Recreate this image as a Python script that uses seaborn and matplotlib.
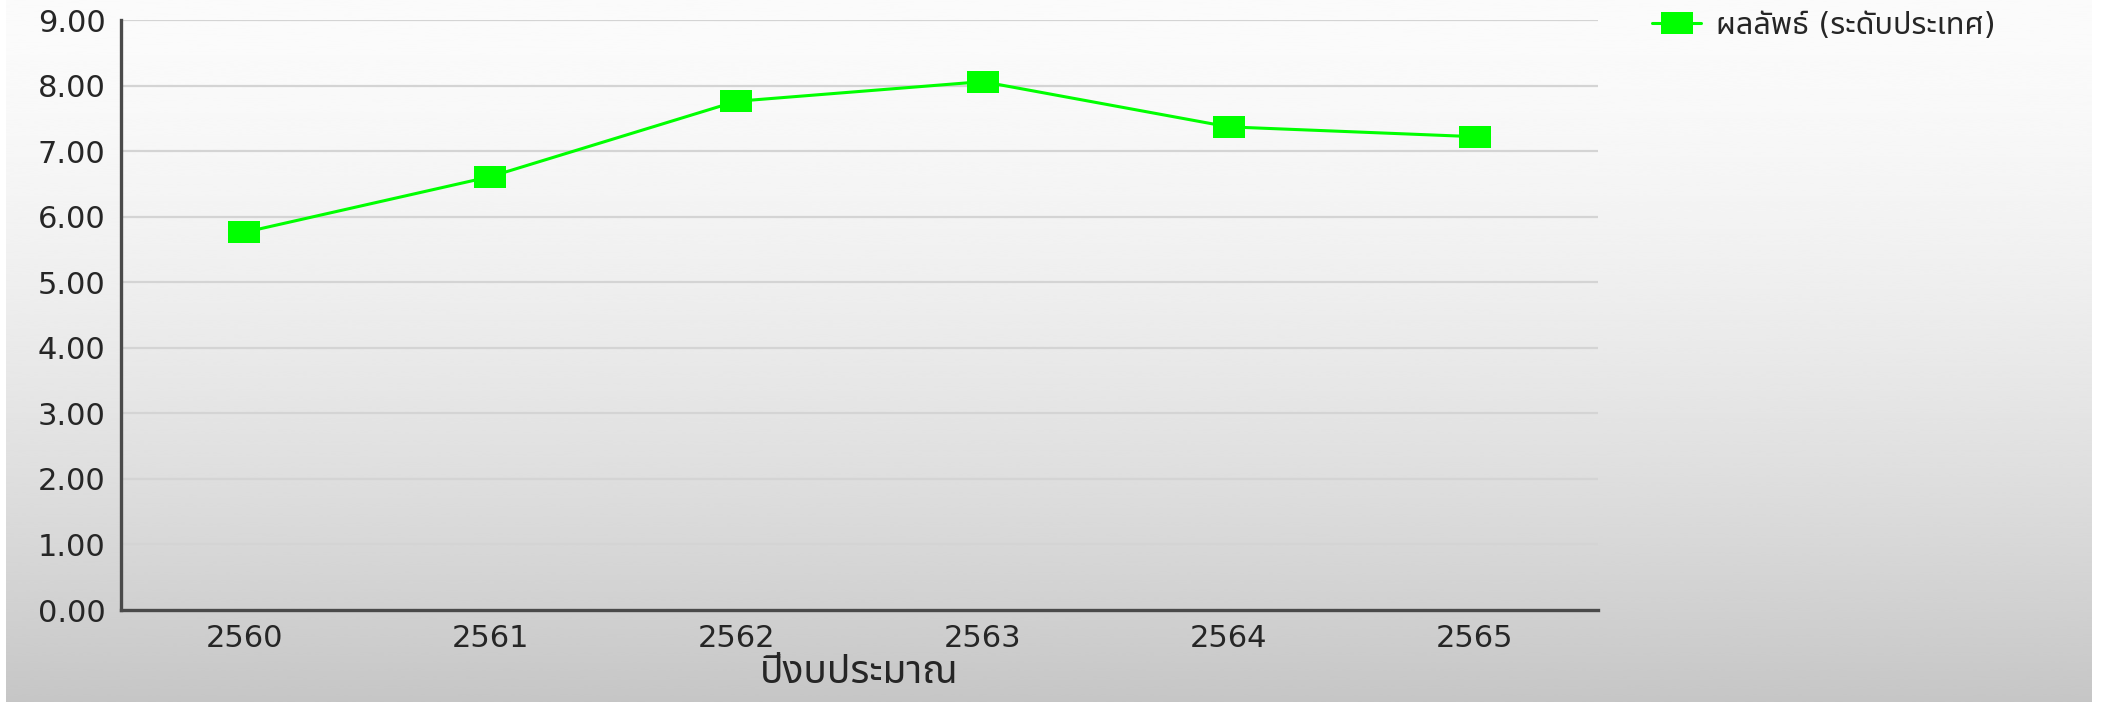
import numpy as np
import pandas as pd
import matplotlib
matplotlib.use("Agg")
import matplotlib.pyplot as plt
import matplotlib.font_manager as fm
from matplotlib.ft2font import FT2Font
from matplotlib.path import Path
import seaborn as sns

# --- data -------------------------------------------------------------
years = ["2560", "2561", "2562", "2563", "2564", "2565"]
results = [5.76, 6.61, 7.76, 8.06, 7.37, 7.22]
y_ticks = [0, 1, 2, 3, 4, 5, 6, 7, 8, 9]
series_label = "ผลลัพธ์ (ระดับประเทศ)"
x_title = "ปีงบประมาณ"

df = pd.DataFrame({"year": years, "value": results})


def thai_family():
    """Return the name of an installed family that covers Thai script."""
    preferred = ["Noto Sans Thai", "Noto Sans Thai UI", "Tahoma", "Loma",
                 "Garuda", "Norasi", "TlwgTypo", "Kinnari"]
    names = {}
    for f in fm.fontManager.ttflist:
        try:
            cmap = FT2Font(f.fname).get_charmap()
        except Exception:
            continue
        if ord("ก") in cmap:
            names.setdefault(f.name, f.fname)
    for p in preferred:
        if p in names:
            return p
    return next(iter(names), None)


sns.set_theme(style="white")
thai = thai_family()
families = ["DejaVu Sans"] + ([thai] if thai else [])
plt.rcParams["font.family"] = families

W, H = 2105, 702
fig = plt.figure(figsize=(W / 100, H / 100), dpi=100)
fig.patch.set_facecolor("white")

# vertical grey gradient behind the whole chart
bg = fig.add_axes([6 / W, 0, (2092 - 6) / W, 1], zorder=-10)
t = np.linspace(0, 1, 400)[:, None]
shade = (251 - 53 * t ** 1.6) / 255.0
grad = np.repeat(shade, 2, axis=1)
bg.imshow(grad, cmap="gray", vmin=0, vmax=1, aspect="auto",
          extent=[0, 1, 0, 1], origin="upper", interpolation="bicubic")
bg.set_axis_off()

ax = fig.add_axes([121 / W, 1 - 610 / H, (1598 - 121) / W, (610 - 20) / H])
ax.patch.set_alpha(0)

# rectangular marker, wider than tall
rect = Path([(-1.5, -1), (1.5, -1), (1.5, 1), (-1.5, 1), (-1.5, -1)],
            [Path.MOVETO, Path.LINETO, Path.LINETO, Path.LINETO, Path.CLOSEPOLY])

sns.lineplot(data=df, x="year", y="value", ax=ax, sort=False,
             color="#00ff00", linewidth=2.2, marker=rect, markersize=23,
             markeredgewidth=0, markerfacecolor="#00ff00",
             label=series_label, zorder=5)

ax.set_xlim(-0.5, len(years) - 0.5)
ax.set_ylim(0, 9)
ax.set_yticks(y_ticks)
ax.set_yticklabels([f"{v:.2f}" for v in y_ticks])
ax.yaxis.grid(True, color="#d4d4d4", linewidth=1.6)
ax.xaxis.grid(False)
ax.set_axisbelow(True)

for side in ("top", "right"):
    ax.spines[side].set_visible(False)
for side in ("left", "bottom"):
    ax.spines[side].set_color("#4a4a4a")
    ax.spines[side].set_linewidth(2.4)

ax.tick_params(axis="both", length=0, labelsize=22, labelcolor="#262626")
ax.tick_params(axis="y", pad=11)
ax.tick_params(axis="x", pad=10)
ax.set_ylabel("")
ax.set_xlabel(x_title, fontsize=28, color="#262626", labelpad=0)

handles, labels = ax.get_legend_handles_labels()
ax.legend_.remove()
fig.legend(handles, labels, loc="center left",
           bbox_to_anchor=(1640 / W, 1 - 25 / H), frameon=False,
           prop={"size": 22}, handlelength=1.6,
           handletextpad=0.5, labelcolor="#262626", borderaxespad=0)

fig.savefig("out.png", dpi=100)
